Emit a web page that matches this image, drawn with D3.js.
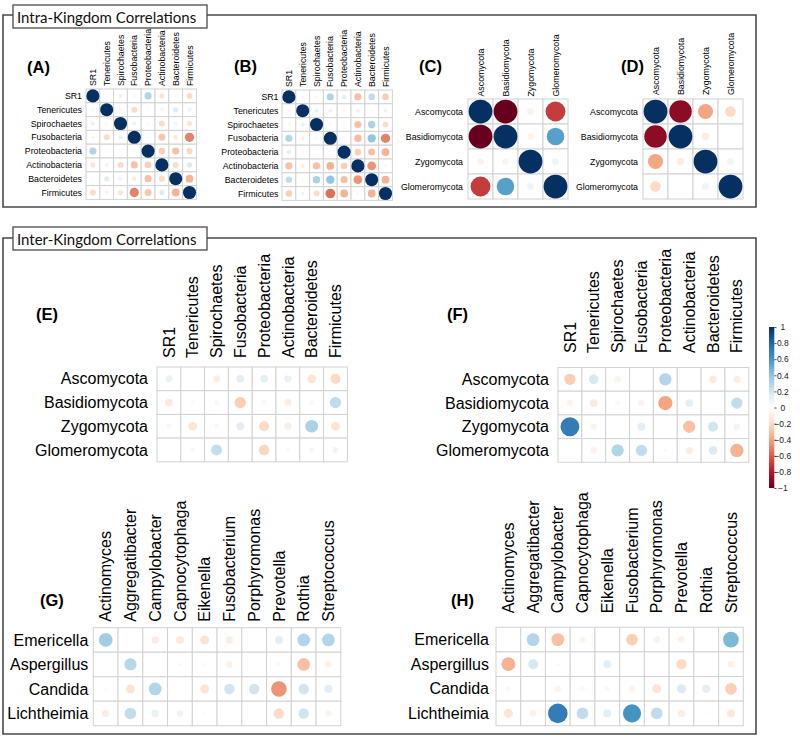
<!DOCTYPE html>
<html><head><meta charset="utf-8">
<script src="https://cdn.jsdelivr.net/npm/d3@7"></script>
<style>body{margin:0;background:#fff}</style>
</head><body>
<svg id="c" width="800" height="740"></svg>
<script>
// ---------- data ----------
const bacPhyla = ["SR1","Tenericutes","Spirochaetes","Fusobacteria","Proteobacteria","Actinobacteria","Bacteroidetes","Firmicutes"];
const fungPhyla = ["Ascomycota","Basidiomycota","Zygomycota","Glomeromycota"];
const bacGenera = ["Actinomyces","Aggregatibacter","Campylobacter","Capnocytophaga","Eikenella","Fusobacterium","Porphyromonas","Prevotella","Rothia","Streptococcus"];
const fungGenera = ["Emericella","Aspergillus","Candida","Lichtheimia"];

const corrA = [
  [1, 0.05, 0.1, -0.05, 0.3, -0.15, 0.04, -0.2],
  [0.05, 1, -0.05, -0.2, -0.04, -0.08, 0.15, 0.08],
  [0.1, -0.05, 1, 0.1, -0.04, -0.2, 0.08, -0.15],
  [-0.05, -0.2, 0.1, 1, -0.04, -0.28, -0.12, -0.5],
  [0.3, -0.04, -0.04, -0.04, 1, -0.25, -0.3, -0.22],
  [-0.15, -0.08, -0.2, -0.3, -0.25, 1, -0.2, 0.15],
  [0.04, 0.15, 0.08, -0.12, -0.3, -0.2, 1, -0.35],
  [-0.2, 0.08, -0.15, -0.5, -0.28, 0.15, -0.35, 1]
];
const corrB = [
  [1, -0.05, -0.05, 0.3, 0.12, -0.3, 0.25, -0.25],
  [-0.05, 1, 0.1, -0.1, -0.03, -0.1, 0.04, 0.08],
  [-0.05, 0.1, 1, 0.05, 0, -0.3, 0.32, -0.2],
  [0.3, -0.1, 0.05, 1, -0.02, -0.32, 0.4, -0.5],
  [0.12, -0.03, 0, -0.02, 1, -0.25, -0.3, -0.35],
  [-0.3, -0.1, -0.3, -0.35, -0.25, 1, -0.45, 0.05],
  [0.25, 0.04, 0.32, 0.4, -0.3, -0.45, 1, -0.35],
  [-0.25, 0.08, -0.2, -0.55, -0.35, 0.05, -0.35, 1]
];
const corrC = [
  [1, -1, -0.08, -0.7],
  [-1, 1, -0.07, 0.55],
  [-0.08, -0.07, 1, 0.08],
  [-0.7, 0.55, 0.08, 1]
];
const corrD = [
  [1, -0.9, -0.4, -0.2],
  [-0.9, 1, -0.1, 0],
  [-0.4, -0.1, 1, 0.08],
  [-0.2, 0, 0.08, 1]
];
const corrE = [
  [0.1, 0.02, -0.1, 0.12, 0.12, 0.1, -0.15, -0.2],
  [-0.12, 0.03, 0.05, -0.25, -0.05, -0.1, 0.05, 0.25],
  [-0.05, -0.15, -0.05, 0.12, -0.2, -0.1, 0.32, -0.15],
  [0.01, 0.05, 0.24, 0.01, -0.22, -0.05, 0.06, 0.07]
];
const corrF = [
  [-0.25, 0.18, -0.08, -0.02, 0.3, 0.01, -0.12, -0.1],
  [-0.07, -0.12, 0.05, -0.07, -0.4, 0.12, 0.01, 0.25],
  [0.7, -0.07, -0.02, 0.12, 0.01, -0.3, 0.2, -0.08],
  [0.02, -0.08, 0.3, 0.25, 0.03, -0.1, 0.15, -0.35]
];
const corrG = [
  [0.35, 0.01, -0.1, -0.12, -0.15, -0.1, -0.01, 0.12, 0.3, 0.3],
  [-0.02, 0.28, 0.01, 0.03, 0.03, -0.08, 0, 0.04, -0.3, -0.08],
  [-0.02, -0.15, 0.3, 0.01, -0.15, 0.2, 0.2, -0.45, 0.2, 0.12],
  [-0.1, 0.25, 0.1, 0.08, 0.02, 0.005, 0.005, -0.2, 0.2, -0.07]
];
const corrH = [
  [0.02, 0.3, -0.3, -0.07, 0, -0.25, -0.08, -0.08, 0.01, 0.45],
  [-0.35, 0.18, 0.03, -0.02, 0.12, 0, 0.02, -0.2, -0.01, -0.08],
  [0.05, 0.01, -0.07, -0.05, -0.05, -0.07, -0.15, 0.15, 0.12, -0.25],
  [-0.15, -0.08, 0.7, 0.25, 0.12, 0.6, 0.25, -0.1, 0.02, -0.12]
];
const legendTicks = [1, 0.8, 0.6, 0.4, 0.2, 0, -0.2, -0.4, -0.6, -0.8, -1];
const paletteStops = [-1, -0.8, -0.6, -0.4, -0.2, 0, 0.2, 0.4, 0.6, 0.8, 1];
const paletteColors = ["#67001F","#B2182B","#D6604D","#F4A582","#FDDBC7","#FFFFFF","#D1E5F0","#92C5DE","#4393C3","#2166AC","#053061"];
const sectionTitles = ["Intra-Kingdom Correlations", "Inter-Kingdom Correlations"];

// ---------- drawing ----------
const svg = d3.select("#c");
const color = d3.scaleLinear().domain(paletteStops).range(paletteColors);
const FONT = "'Liberation Sans', Arial, Helvetica, sans-serif";

// section frames
function frame(top, bottom, hy, title) {
  const g = svg.append("g");
  g.append("path")
    .attr("d", `M13,${top} H3 V${bottom} H756 V${top} H207`)
    .attr("fill", "none").attr("stroke", "#4a4a4a").attr("stroke-width", 1.6);
  g.append("rect").attr("x", 13).attr("y", hy).attr("width", 194).attr("height", 23)
    .attr("fill", "#fff").attr("stroke", "#4a4a4a").attr("stroke-width", 1.3);
  g.append("text").attr("x", 17).attr("y", hy + 17.5)
    .attr("font-family", "Lato, 'Open Sans', sans-serif").attr("font-size", 15)
    .attr("fill", "#111").text(title);
}
frame(15, 207, 5, sectionTitles[0]);
frame(238, 734, 227, sectionTitles[1]);

const panels = [
  {t:"(A)", rows:bacPhyla, cols:bacPhyla, d:corrA, x0:86, y0:89, cw:13.8, ch:13.8, fs:8.8, rg:4, cg:3, tx:27, ty:73},
  {t:"(B)", rows:bacPhyla, cols:bacPhyla, d:corrB, x0:282, y0:90, cw:13.8, ch:13.8, fs:8.8, rg:3.5, cg:3, tx:234, ty:72},
  {t:"(C)", rows:fungPhyla, cols:fungPhyla, d:corrC, x0:468, y0:99, cw:25, ch:25, fs:8.8, rg:5, cg:2.5, tx:419, ty:72},
  {t:"(D)", rows:fungPhyla, cols:fungPhyla, d:corrD, x0:643, y0:99, cw:25, ch:25, fs:8.8, rg:5, cg:4, tx:621, ty:72},
  {t:"(E)", rows:fungPhyla, cols:bacPhyla, d:corrE, x0:157, y0:367, cw:23.8, ch:23.7, fs:16, rg:9, cg:9, tx:36, ty:320},
  {t:"(F)", rows:fungPhyla, cols:bacPhyla, d:corrF, x0:558, y0:367.5, cw:23.85, ch:23.7, fs:16, rg:9, cg:14.5, tx:447, ty:320},
  {t:"(G)", rows:fungGenera, cols:bacGenera, d:corrG, x0:93.3, y0:627.7, cw:24.75, ch:24.5, fs:16, rg:5, cg:6, tx:40, ty:606},
  {t:"(H)", rows:fungGenera, cols:bacGenera, d:corrH, x0:496, y0:627.3, cw:24.73, ch:24.6, fs:16, rg:7, cg:14, tx:451, ty:606}
];

panels.forEach(p => {
  const g = svg.append("g");
  const x = d3.scaleBand().domain(p.cols).range([p.x0, p.x0 + p.cw * p.cols.length]);
  const y = d3.scaleBand().domain(p.rows).range([p.y0, p.y0 + p.ch * p.rows.length]);
  const rMax = 0.475 * Math.min(x.bandwidth(), y.bandwidth());
  const cells = [];
  p.rows.forEach((rn, i) => p.cols.forEach((cn, j) => cells.push({r: rn, c: cn, v: p.d[i][j]})));

  g.selectAll("rect.cell").data(cells).join("rect")
    .attr("x", d => x(d.c)).attr("y", d => y(d.r))
    .attr("width", x.bandwidth()).attr("height", y.bandwidth())
    .attr("fill", "#fff").attr("stroke", "#d2d2d2").attr("stroke-width", 1);

  g.selectAll("circle").data(cells).join("circle")
    .attr("cx", d => x(d.c) + x.bandwidth() / 2)
    .attr("cy", d => y(d.r) + y.bandwidth() / 2)
    .attr("r", d => rMax * Math.sqrt(Math.abs(d.v)))
    .attr("fill", d => color(d.v));

  g.selectAll("text.row").data(p.rows).join("text")
    .attr("x", p.x0 - p.rg).attr("y", d => y(d) + y.bandwidth() / 2)
    .attr("dy", "0.35em").attr("text-anchor", "end")
    .attr("font-family", FONT).attr("font-size", p.fs).attr("fill", "#000").text(d => d);

  g.selectAll("text.col").data(p.cols).join("text")
    .attr("transform", d => `translate(${x(d) + x.bandwidth() / 2},${p.y0 - p.cg}) rotate(-90)`)
    .attr("dy", "0.35em").attr("text-anchor", "start")
    .attr("font-family", FONT).attr("font-size", p.fs).attr("fill", "#000").text(d => d);

  g.append("text").attr("x", p.tx).attr("y", p.ty)
    .attr("font-family", FONT).attr("font-weight", "bold").attr("font-size", 16.5)
    .attr("fill", "#000").text(p.t);
});

// color legend
const defs = svg.append("defs");
const grad = defs.append("linearGradient").attr("id", "cb").attr("x1", 0).attr("x2", 0).attr("y1", 1).attr("y2", 0);
paletteStops.forEach((s, i) => grad.append("stop").attr("offset", (s + 1) / 2).attr("stop-color", paletteColors[i]));
const ly = d3.scaleLinear().domain([-1, 1]).range([488, 327]);
svg.append("rect").attr("x", 769).attr("y", ly(1)).attr("width", 5.3).attr("height", ly(-1) - ly(1)).attr("fill", "url(#cb)");
const lg = svg.append("g").attr("transform", "translate(774.3,0)")
  .call(d3.axisRight(ly).tickValues(legendTicks).tickSize(2.2).tickFormat(d => d3.format("")(d).replace("-", "\u2212")));
lg.select(".domain").remove();
lg.selectAll("line").attr("stroke", "#555");
lg.selectAll("text").attr("font-family", FONT).attr("font-size", 8.5).attr("fill", "#222")
  .attr("text-anchor", "middle").attr("x", 8.5);
</script>
</body></html>
